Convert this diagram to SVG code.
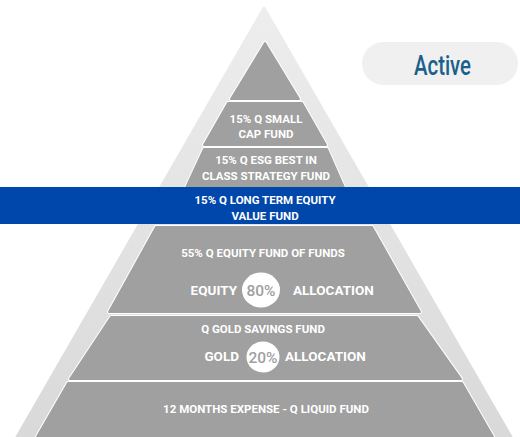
<svg xmlns="http://www.w3.org/2000/svg" width="520" height="437" viewBox="0 0 520 437">
<defs>
<linearGradient id="outerG" x1="0" y1="0" x2="0" y2="1">
<stop offset="0" stop-color="#ededed"/>
<stop offset="1" stop-color="#d9d9d9"/>
</linearGradient>
<style>
.halo{fill:none;stroke:#ffffff;stroke-width:4;stroke-linejoin:round}
.tier{fill:#a0a0a0;stroke:#a0a0a0;stroke-width:2;stroke-linejoin:round}
.t{font-family:Roboto,"Liberation Sans",sans-serif;font-weight:700;fill:#ffffff;text-anchor:middle;font-size:11.5px}
.big{font-family:Roboto,"Liberation Sans",sans-serif;font-weight:700;fill:#ffffff;font-size:13.5px}
.pct{font-family:Roboto,"Liberation Sans",sans-serif;font-weight:500;fill:#a0a0a0;text-anchor:middle;font-size:15.5px}
</style>
</defs>
<rect width="520" height="437" fill="#ffffff"/>
<g id="outer">
<polygon points="264,8 511,437 17,437" fill="url(#outerG)" stroke="url(#outerG)" stroke-width="3" stroke-linejoin="round"/>
</g>
<g id="tier1">
<polygon class="halo" points="265,43 299,99 231,99"/>
<polygon class="tier" points="265,43 299,99 231,99"/>
</g>
<g id="tier2">
<polygon class="halo" points="228,103 302,103 326,145 204,145"/>
<polygon class="tier" points="228,103 302,103 326,145 204,145"/>
<text class="t" x="266" y="123">15% Q SMALL</text>
<text class="t" x="266" y="138">CAP FUND</text>
</g>
<g id="tier3">
<polygon class="halo" points="204,149 327,149 346,192 184,192"/>
<polygon class="tier" points="204,149 327,149 346,192 184,192"/>
<text class="t" x="266" y="164">15% Q ESG BEST IN</text>
<text class="t" x="266" y="180">CLASS STRATEGY FUND</text>
</g>
<g id="band">
<rect x="0" y="187" width="520" height="37" fill="#0047ab"/>
<text class="t" x="265" y="204">15% Q LONG TERM EQUITY</text>
<text class="t" x="265" y="220">VALUE FUND</text>
</g>
<g id="tier4">
<polygon class="halo" points="156,227 372,227 420,312 109,312"/>
<polygon class="tier" points="156,227 372,227 420,312 109,312"/>
<text class="t" x="263" y="257">55% Q EQUITY FUND OF FUNDS</text>
<text class="big" x="237" y="295" text-anchor="end">EQUITY</text>
<ellipse cx="261" cy="290" rx="19" ry="17.5" fill="#ffffff"/>
<text class="pct" x="261" y="296">80%</text>
<text class="big" x="293" y="295">ALLOCATION</text>
</g>
<g id="tier5">
<polygon class="halo" points="111,317 417,317 461,379 70,379"/>
<polygon class="tier" points="111,317 417,317 461,379 70,379"/>
<text class="t" x="263" y="333">Q GOLD SAVINGS FUND</text>
<text class="big" x="239" y="361" text-anchor="end">GOLD</text>
<ellipse cx="263" cy="357" rx="16.5" ry="15.5" fill="#ffffff"/>
<text class="pct" x="263" y="362.5">20%</text>
<text class="big" x="285" y="361">ALLOCATION</text>
</g>
<g id="tier6">
<polygon class="halo" points="68,383 462,383 496,442 34,442"/>
<polygon class="tier" points="68,383 462,383 496,442 34,442"/>
<text class="t" x="266" y="413">12 MONTHS EXPENSE - Q LIQUID FUND</text>
</g>
<g id="active">
<rect x="362" y="42" width="156" height="43" rx="21.5" fill="#f0f0f0"/>
<text x="414" y="75" font-family="Roboto,'Liberation Sans',sans-serif" font-weight="500" font-size="27" fill="#19608c" textLength="57" lengthAdjust="spacingAndGlyphs">Active</text>
</g>
<g id="connectors"/>
</svg>
